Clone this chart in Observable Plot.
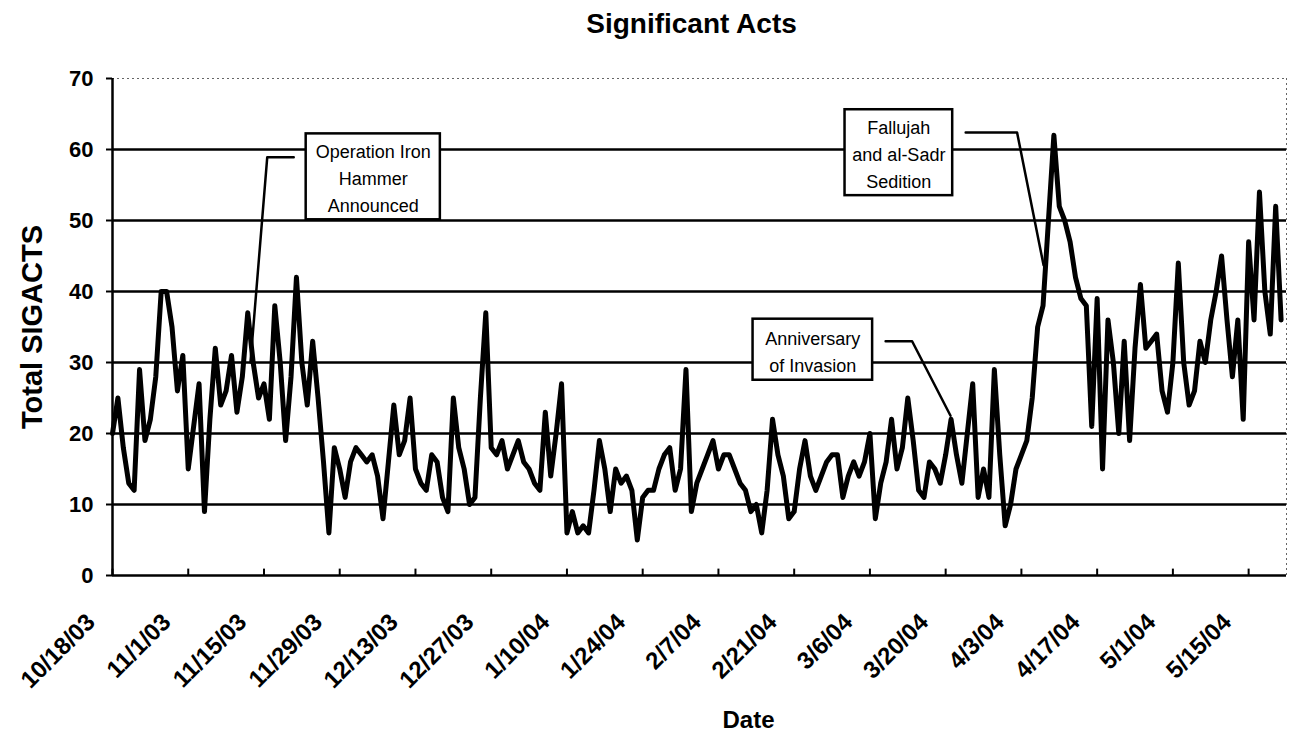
<!DOCTYPE html>
<html><head><meta charset="utf-8">
<script src="https://cdn.jsdelivr.net/npm/d3@7"></script>
<script src="https://cdn.jsdelivr.net/npm/@observablehq/plot@0.6"></script>
<style>
body{margin:0;background:#fff;}
#wrap{width:1295px;height:736px;}
</style>
</head><body><div id="wrap"></div>
<script>
const chartTitle = "Significant Acts";
const yLabel = "Total SIGACTS";
const xLabel = "Date";
const startDate = "2003-10-18";
const endDate = "2004-05-22";
// daily totals, 10/18/03 onward
const sigacts = [
  20,25,18,13,12,29,19,22,28,40,
  40,35,26,31,15,21,27,9,22,32,
  24,26,31,23,28,37,30,25,27,22,
  38,30,19,28,42,30,24,33,25,16,
  6,18,15,11,16,18,17,16,17,14,
  8,16,24,17,19,25,15,13,12,17,
  16,11,9,25,18,15,10,11,25,37,
  18,17,19,15,17,19,16,15,13,12,
  23,14,20,27,6,9,6,7,6,12,
  19,15,9,15,13,14,12,5,11,12,
  12,15,17,18,12,15,29,9,13,15,
  17,19,15,17,17,15,13,12,9,10,
  6,12,22,17,14,8,9,15,19,14,
  12,14,16,17,17,11,14,16,14,16,
  20,8,13,16,22,15,18,25,19,12,
  11,16,15,13,17,22,17,13,20,27,
  11,15,11,29,17,7,10,15,17,19,
  25,35,38,50,62,52,50,47,42,39,
  38,21,39,15,36,30,20,33,19,32,
  41,32,33,34,26,23,30,44,30,24,
  26,33,30,36,40,45,36,28,36,22,
  47,36,54,40,34,52,36
];
const tickLabels = ["10/18/03","11/1/03","11/15/03","11/29/03","12/13/03","12/27/03","1/10/04","1/24/04","2/7/04","2/21/04","3/6/04","3/20/04","4/3/04","4/17/04","5/1/04","5/15/04"];
const yTicks = [0,10,20,30,40,50,60,70];
const gridValues = [10,20,30,40,50,60];
// annotations (positions in days after start / SIGACTS units)
const annoText = ["Operation Iron\nHammer\nAnnounced", "Fallujah\nand al-Sadr\nSedition", "Anniversary\nof Invasion"];
const annoBoxDay = [[35.8,60.6],[135.4,155.3],[118.4,140.5]];
const annoBoxVal = [[50.1,62.2],[53.5,65.6],[27.5,36.1]];
const leaderDay = [[33.5,28.6,25.5],[157.7,167.2,172.1],[142.9,147.8,154.9]];
const leaderVal = [[58.9,58.9,30.0],[62.4,62.4,43.7],[33.0,33.0,22.5]];

const parseTick = d3.utcParse("%m/%d/%y");
const parseISO = d3.utcParse("%Y-%m-%d");
const start = parseISO(startDate), end = parseISO(endDate);
const dayAt = d => new Date(start.getTime() + d * 864e5);
const series = sigacts.map((v, i) => ({date: d3.utcDay.offset(start, i), value: v}));
const tickDates = tickLabels.map(parseTick);
const boxes = annoText.map((t, i) => ({
  text: t,
  x1: dayAt(annoBoxDay[i][0]), x2: dayAt(annoBoxDay[i][1]),
  y1: annoBoxVal[i][0], y2: annoBoxVal[i][1],
  xc: dayAt((annoBoxDay[i][0] + annoBoxDay[i][1]) / 2),
  yc: (annoBoxVal[i][0] + annoBoxVal[i][1]) / 2
}));
const leaders = leaderDay.flatMap((ds, i) => ds.map((d, j) => ({id: i, date: dayAt(d), value: leaderVal[i][j]})));

const font = "'Liberation Sans', Arial, Helvetica, sans-serif";
const chart = Plot.plot({
  width: 1295, height: 736,
  marginLeft: 112, marginRight: 9, marginTop: 78, marginBottom: 161,
  style: {fontFamily: font, background: "white", color: "black"},
  x: {type: "utc", domain: [start, end], axis: null},
  y: {domain: [0, 70], axis: null},
  marks: [
    Plot.ruleY(gridValues, {stroke: "black", strokeWidth: 2.5}),
    Plot.ruleY([70], {stroke: "#666", strokeWidth: 1, strokeDasharray: "2,3"}),
    Plot.ruleX([end], {stroke: "#666", strokeWidth: 1, strokeDasharray: "2,3"}),
    Plot.axisY({ticks: yTicks, tickSize: 6, tickPadding: 13, fontSize: 22, fontWeight: "bold", label: null, strokeWidth: 2}),
    Plot.ruleX(tickDates, {y1: 0, y2: 0.9, stroke: "black", strokeWidth: 2}),
    Plot.ruleY([0], {stroke: "black", strokeWidth: 2.5}),
    Plot.ruleX([start], {stroke: "black", strokeWidth: 2.5}),
    Plot.text(tickDates, {x: d => d, text: (d, i) => tickLabels[i], frameAnchor: "bottom", rotate: -45, textAnchor: "end", dx: -16, dy: 48, fontSize: 24, fontWeight: "bold"}),
    Plot.line(leaders, {x: "date", y: "value", z: "id", stroke: "black", strokeWidth: 2.5}),
    Plot.line(series, {x: "date", y: "value", stroke: "black", strokeWidth: 5, strokeLinejoin: "round"}),
    Plot.rect(boxes, {x1: "x1", x2: "x2", y1: "y1", y2: "y2", fill: "white", stroke: "black", strokeWidth: 2.5}),
    Plot.text(boxes, {x: "xc", y: "yc", text: "text", fontSize: 18, lineHeight: 1.5, textAnchor: "middle"}),
    Plot.text([chartTitle], {frameAnchor: "top", textAnchor: "middle", dx: -8, dy: -65, fontSize: 28, fontWeight: "bold"}),
    Plot.text([yLabel], {frameAnchor: "left", textAnchor: "middle", rotate: -90, dx: -80, fontSize: 29, fontWeight: "bold"}),
    Plot.text([xLabel], {frameAnchor: "bottom", textAnchor: "middle", dx: 49, dy: 152, fontSize: 24, fontWeight: "bold"})
  ]
});
document.getElementById("wrap").appendChild(chart);
</script>
</body></html>
